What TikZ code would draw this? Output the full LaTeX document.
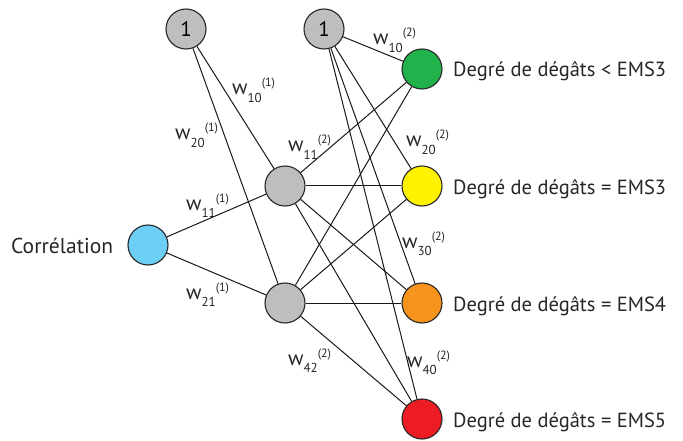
\documentclass[tikz,border=0pt]{standalone}
\usepackage{fontspec}
\setmainfont{PT Sans}
\definecolor{cgray}{RGB}{188,190,192}
\definecolor{cblue}{RGB}{109,207,246}
\definecolor{cgreen}{RGB}{34,178,76}
\definecolor{cyellow}{RGB}{255,242,0}
\definecolor{corange}{RGB}{247,148,29}
\definecolor{cred}{RGB}{237,28,36}
\newcommand\wlab[2]{w\raisebox{-7.5pt}{\fontsize{13}{13}\selectfont #1}\raisebox{8pt}{\fontsize{12}{12}\selectfont (#2)}}
\tikzset{
  neuron/.style={circle,draw=black!85,line width=1.1pt,minimum size=40pt,inner sep=0pt,font=\fontsize{21}{21}\selectfont},
  conn/.style={draw=black!90,line width=1pt},
  wl/.style={anchor=base west,inner sep=0pt,font=\fontsize{21}{21}\selectfont,text=black!85},
  outtxt/.style={anchor=base west,inner sep=0pt,font=\fontsize{20.5}{20.5}\selectfont,text=black!85}
}
\begin{document}
\begin{tikzpicture}[x=1pt,y=-1pt]
\useasboundingbox (0,0) rectangle (683,441);
\node[neuron,fill=cgray] (b1) at (186,29) {1};
\node[neuron,fill=cgray] (b2) at (324,29) {1};
\node[neuron,fill=cblue] (in) at (148,245) {};
\node[neuron,fill=cgray] (h1) at (285,186) {};
\node[neuron,fill=cgray] (h2) at (285,303) {};
\node[neuron,fill=cgreen] (o1) at (422,69) {};
\node[neuron,fill=cyellow] (o2) at (422,186) {};
\node[neuron,fill=corange] (o3) at (422,303) {};
\node[neuron,fill=cred] (o4) at (422,419) {};
\draw[conn] (b1) -- (h1);
\draw[conn] (b1) -- (h2);
\draw[conn] (in) -- (h1);
\draw[conn] (in) -- (h2);
\foreach \o in {o1,o2,o3,o4}{
  \draw[conn] (b2) -- (\o);
  \draw[conn] (h1) -- (\o);
  \draw[conn] (h2) -- (\o);
}
\node[outtxt] (t1) at (453,77) {Degré de dégâts < EMS3};
\node[outtxt] (t2) at (453,194) {Degré de dégâts = EMS3};
\node[outtxt] (t3) at (453,311) {Degré de dégâts = EMS4};
\node[outtxt] (t4) at (453,427) {Degré de dégâts = EMS5};
\node[outtxt,font=\fontsize{21.5}{21.5}\selectfont] (tin) at (11,253) {Corrélation};
\node[wl] (l1) at (232,95) {\wlab{10}{1}};
\node[wl] (l2) at (175,140) {\wlab{20}{1}};
\node[wl] (l3) at (186,210) {\wlab{11}{1}};
\node[wl] (l4) at (186,299) {\wlab{21}{1}};
\node[wl] (l5) at (288,152) {\wlab{11}{2}};
\node[wl] (l6) at (373,45) {\wlab{10}{2}};
\node[wl] (l7) at (406,147) {\wlab{20}{2}};
\node[wl] (l8) at (402,248) {\wlab{30}{2}};
\node[wl] (l9) at (288,365) {\wlab{42}{2}};
\node[wl] (l10) at (407,367) {\wlab{40}{2}};
\end{tikzpicture}
\end{document}
